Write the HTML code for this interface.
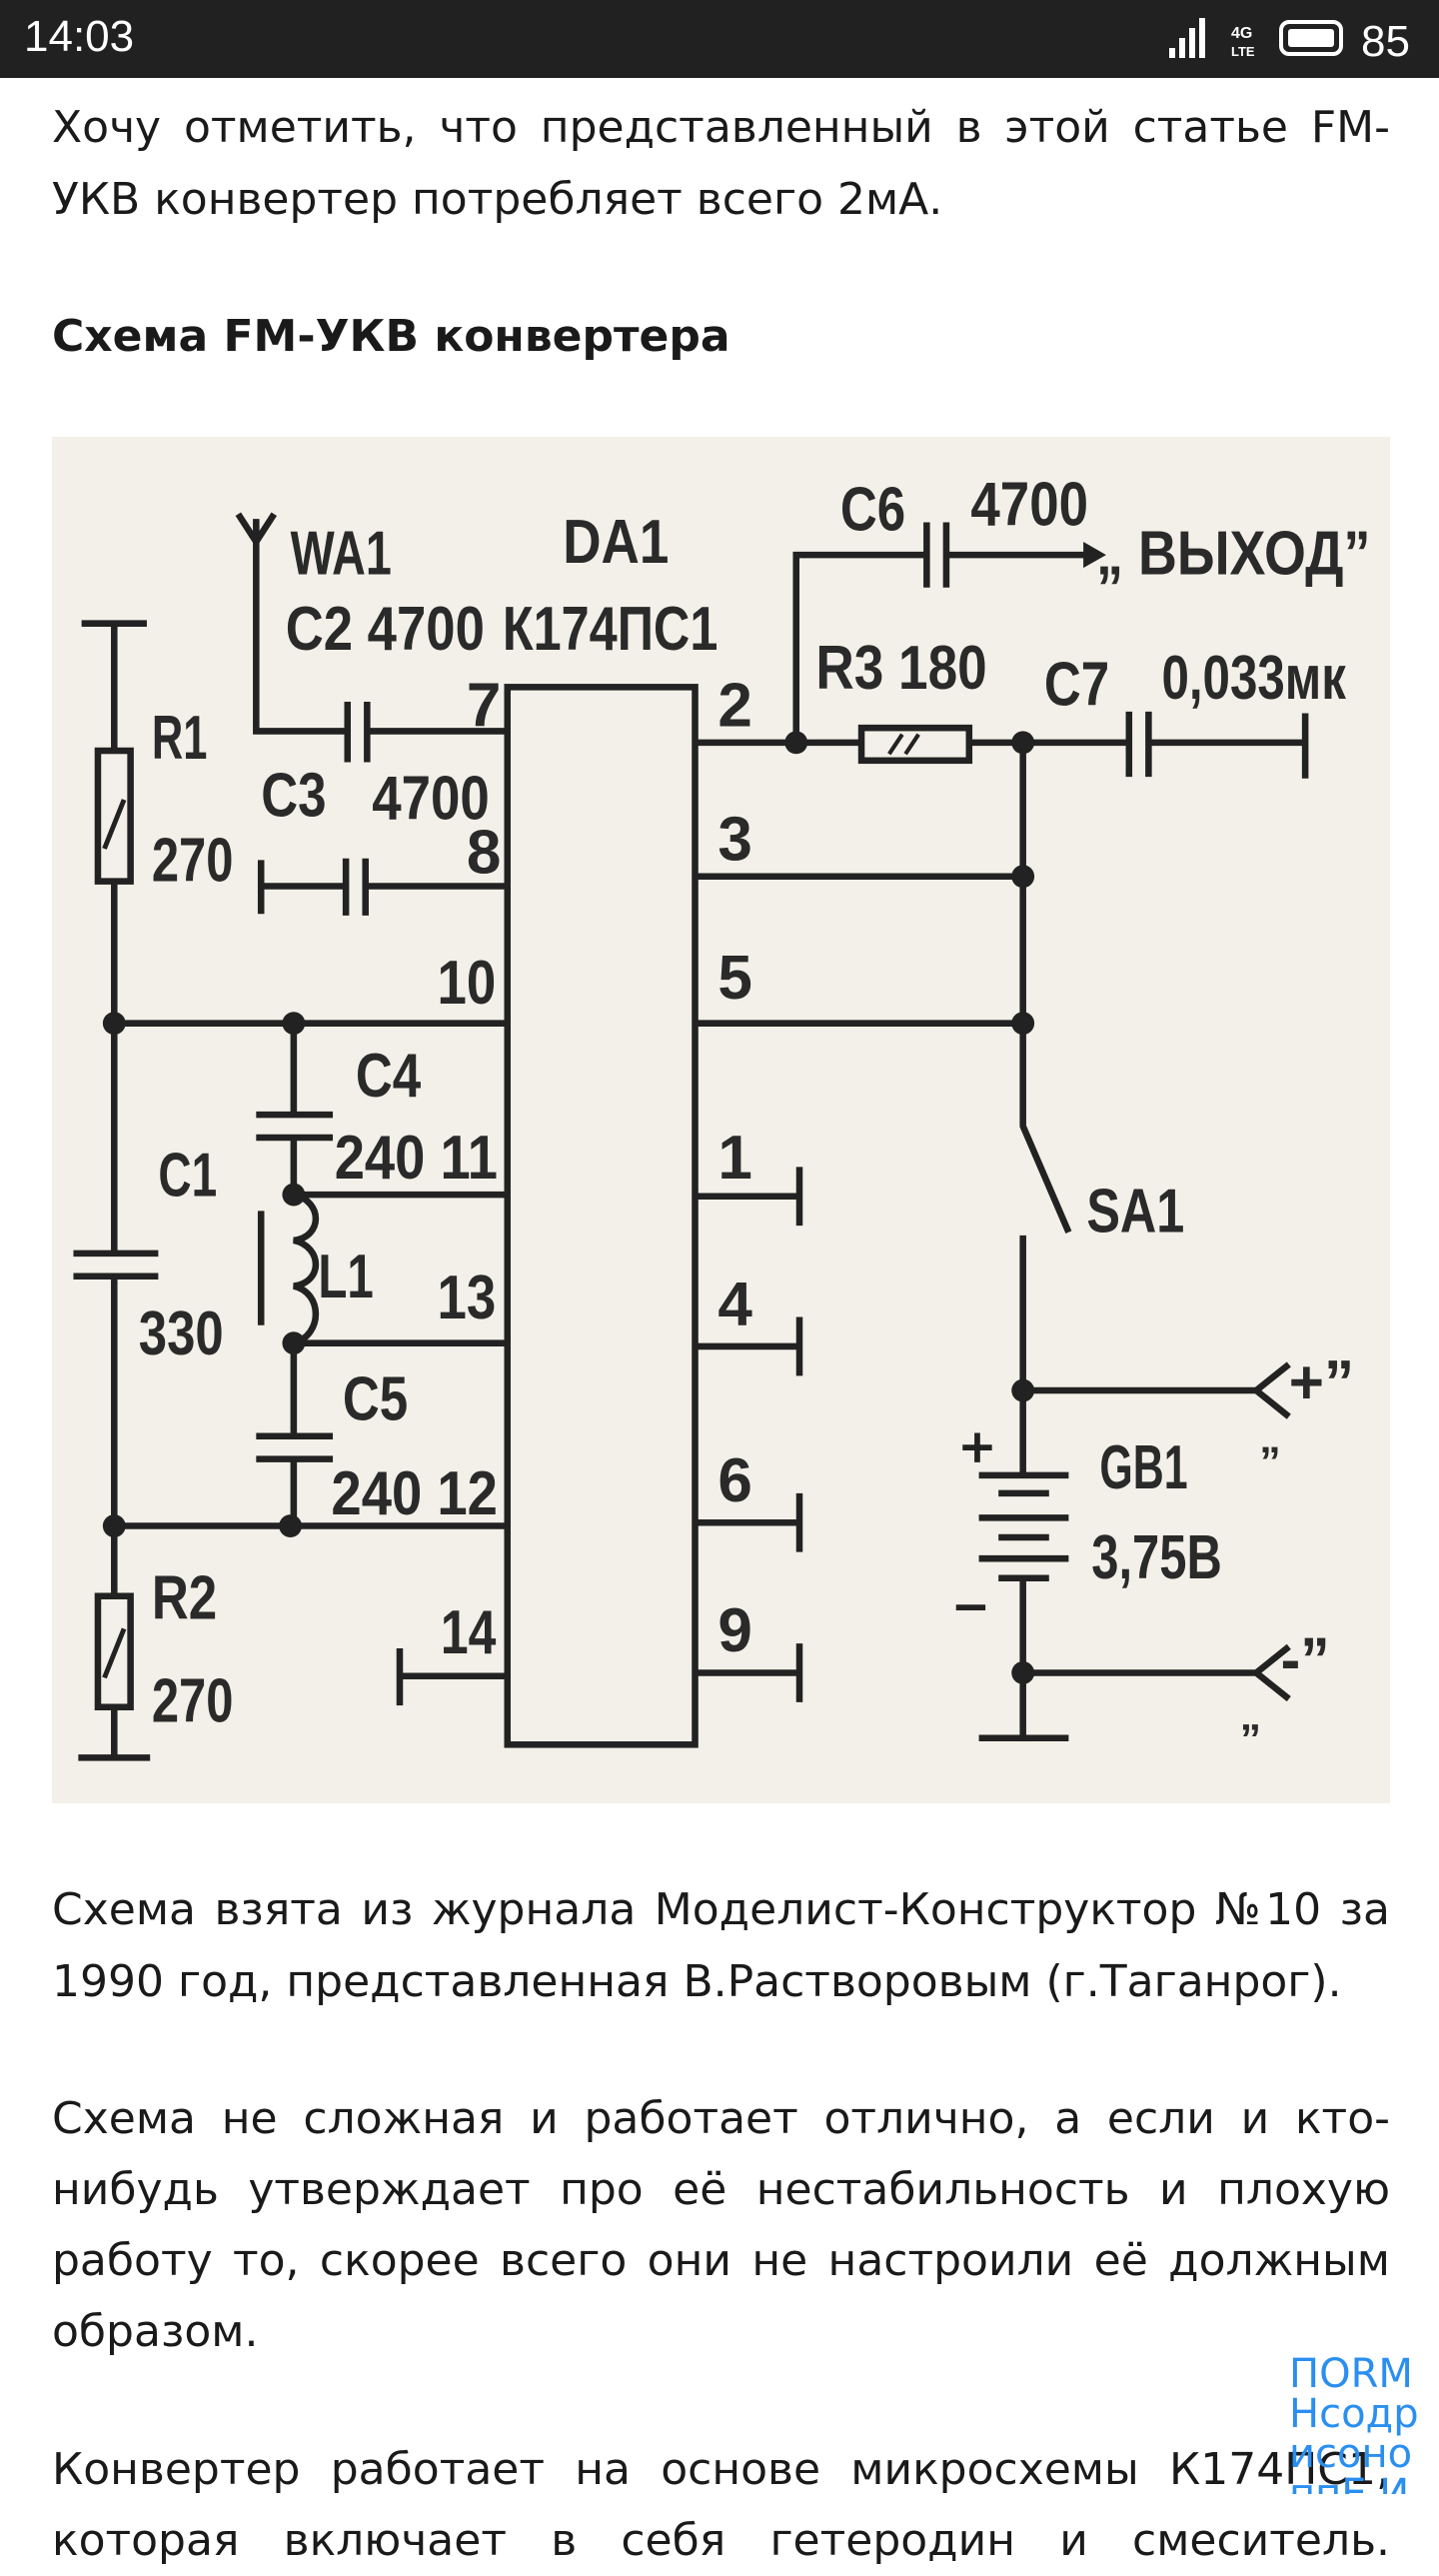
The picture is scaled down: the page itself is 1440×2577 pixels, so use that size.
<!DOCTYPE html>
<html><head><meta charset="utf-8">
<style>
html,body{margin:0;padding:0;width:1440px;height:2560px;overflow:hidden;background:#fff;}
.bar{position:absolute;left:0;top:0;width:1440px;height:78px;background:#212121;color:#fff;font-family:"Liberation Sans",sans-serif;}
.l{position:absolute;left:52px;width:1339px;font-family:"DejaVu Sans","Liberation Sans",sans-serif;font-size:44px;line-height:71px;height:71px;color:#1a1a1a;text-align:justify;text-align-last:justify;white-space:nowrap;}
.e{text-align:left;text-align-last:left;}
.h{font-weight:bold;}
.img{position:absolute;left:52px;top:437px;width:1339px;height:1367px;background:#f2f0e8;}
</style></head><body>
<div class="bar">
<div style="position:absolute;left:24px;top:12px;font-size:44px;">14:03</div>
<svg style="position:absolute;left:1150px;top:14px" width="290" height="50">
<rect x="20" y="34" width="6" height="10" fill="#fff"/><rect x="30" y="24" width="6" height="20" fill="#fff"/><rect x="40" y="14" width="6" height="30" fill="#fff"/><rect x="50" y="4" width="6" height="40" fill="#fff"/>
<text x="82" y="24" fill="#fff" font-size="16" font-family="Liberation Sans" font-weight="bold">4G</text>
<text x="82" y="42" fill="#fff" font-size="13" font-family="Liberation Sans" font-weight="bold">LTE</text>
<rect x="132" y="8" width="60" height="32" rx="8" fill="none" stroke="#fff" stroke-width="4"/>
<rect x="139" y="15" width="46" height="18" rx="3" fill="#fff"/>
<text x="212" y="42" fill="#fff" font-size="44" font-family="Liberation Sans">85</text>
</svg>
</div>
<div class="l" style="top:92px">Хочу отметить, что представленный в этой статье FM-</div>
<div class="l e" style="top:164px">УКВ конвертер потребляет всего 2мА.</div>
<div class="l e h" style="top:301px">Схема FM-УКВ конвертера</div>
<div class="img"></div>
<svg style="position:absolute;left:0;top:0" width="1440" height="2560" viewBox="0 0 882 1568">
<g stroke="#222" stroke-width="4" fill="none" stroke-linecap="butt">
<rect x="311" y="421" width="115" height="648"/>
<path d="M157 318 L157 448 L213 448 M225 448 L311 448"/>
<path d="M146 315 L157 332 L168 315"/>
<path d="M213 430 V467 M225 430 V467"/>
<path d="M160 527 V560 M160 543 H212 M224 543 H311 M212 526 V561 M224 526 V561"/>
<path d="M50 382 H90 M70 382 V460 M70 540 V768 M70 782 V978 M70 1046 V1077 M48 1077 H92"/>
<rect x="60" y="460" width="20" height="80"/>
<rect x="60" y="978" width="20" height="68"/>
<path d="M45 768 H97 M45 782 H97"/>
<path d="M64 520 L76 490 M64 1028 L76 998" stroke-width="3"/>
<path d="M70 627 H311 M180 732 H311 M180 823 H311 M70 935 H311 M245 1027 H311 M245 1010 V1045"/>
<path d="M180 627 V683 M180 697 V732 M157 683 H204 M157 697 H204"/>
<path d="M180 732 C198 736,198 758,180 760 C198 764,198 786,180 788 C198 792,198 818,180 823"/>
<path d="M160 742 V812"/>
<path d="M180 823 V880 M180 894 V935 M157 880 H204 M157 894 H204"/>
<path d="M426 455 H528 M594 455 H692 M704 455 H800 M800 437 V477"/>
<rect x="528" y="446" width="66" height="20"/>
<path d="M545 462 L553 450 M555 462 L563 450" stroke-width="2.5"/>
<path d="M692 436 V476 M704 436 V476"/>
<path d="M488 455 V340 H568 M580 340 H668 M568 320 V360 M580 320 V360"/>
<path d="M426 537 H627 M426 627 H627 M627 455 V690 L655 755 M627 757 V904 M627 967 V1065 M600 1065 H655"/>
<path d="M426 733 H490 M426 825 H490 M426 933 H490 M426 1025 H490 M490 715 V751 M490 807 V843 M490 915 V951 M490 1007 V1043"/>
<path d="M627 852 H770 M790 836 L770 852 L790 868 M627 1025 H770 M790 1009 L770 1025 L790 1041"/>
<path d="M600 904 H655 M612 915 H643 M600 930 H655 M612 942 H643 M600 955 H655 M612 967 H643"/>
<path d="M590 887 H608 M599 878 V896 M586 985 H604" stroke-width="3.5"/>
</g>
<path d="M664 332 L678 340 L664 348 Z" fill="#222"/>
<g fill="#222">
<circle cx="70" cy="627" r="7"/><circle cx="180" cy="627" r="7"/><circle cx="180" cy="732" r="7"/><circle cx="180" cy="823" r="7"/><circle cx="70" cy="935" r="7"/><circle cx="178" cy="935" r="7"/>
<circle cx="488" cy="455" r="7"/><circle cx="627" cy="455" r="7"/><circle cx="627" cy="537" r="7"/><circle cx="627" cy="627" r="7"/><circle cx="627" cy="852" r="7"/><circle cx="627" cy="1025" r="7"/>
</g>
<g fill="#2a2a2a" font-family="Liberation Sans, DejaVu Sans, sans-serif" font-size="38" font-weight="bold">
<text x="178" y="352" textLength="62" lengthAdjust="spacingAndGlyphs">WA1</text>
<text x="175" y="398" textLength="122" lengthAdjust="spacingAndGlyphs">C2 4700</text>
<text x="345" y="345" textLength="65" lengthAdjust="spacingAndGlyphs">DA1</text>
<text x="308" y="398" textLength="132" lengthAdjust="spacingAndGlyphs">К174ПС1</text>
<text x="515" y="325" textLength="40" lengthAdjust="spacingAndGlyphs">C6</text>
<text x="595" y="322" textLength="72" lengthAdjust="spacingAndGlyphs">4700</text>
<text x="672" y="352" textLength="168" lengthAdjust="spacingAndGlyphs">„ ВЫХОД”</text>
<text x="500" y="422" textLength="105" lengthAdjust="spacingAndGlyphs">R3 180</text>
<text x="640" y="432" textLength="40" lengthAdjust="spacingAndGlyphs">C7</text>
<text x="712" y="428" textLength="113" lengthAdjust="spacingAndGlyphs">0,033мк</text>
<text x="286" y="445">7</text><text x="440" y="445">2</text>
<text x="160" y="500" textLength="40" lengthAdjust="spacingAndGlyphs">C3</text>
<text x="228" y="502" textLength="72" lengthAdjust="spacingAndGlyphs">4700</text>
<text x="286" y="535">8</text><text x="440" y="527">3</text>
<text x="93" y="465" textLength="34" lengthAdjust="spacingAndGlyphs">R1</text>
<text x="93" y="540" textLength="50" lengthAdjust="spacingAndGlyphs">270</text>
<text x="268" y="615" textLength="36" lengthAdjust="spacingAndGlyphs">10</text>
<text x="440" y="612">5</text>
<text x="218" y="672" textLength="40" lengthAdjust="spacingAndGlyphs">C4</text>
<text x="205" y="722" textLength="100" lengthAdjust="spacingAndGlyphs">240 11</text>
<text x="440" y="722">1</text>
<text x="666" y="755" textLength="60" lengthAdjust="spacingAndGlyphs">SA1</text>
<text x="97" y="733" textLength="36" lengthAdjust="spacingAndGlyphs">C1</text>
<text x="85" y="830" textLength="52" lengthAdjust="spacingAndGlyphs">330</text>
<text x="195" y="795" textLength="34" lengthAdjust="spacingAndGlyphs">L1</text>
<text x="268" y="808" textLength="36" lengthAdjust="spacingAndGlyphs">13</text>
<text x="440" y="812">4</text>
<text x="210" y="870" textLength="40" lengthAdjust="spacingAndGlyphs">C5</text>
<text x="203" y="928" textLength="102" lengthAdjust="spacingAndGlyphs">240 12</text>
<text x="440" y="920">6</text>
<text x="674" y="912" textLength="54" lengthAdjust="spacingAndGlyphs">GB1</text>
<text x="669" y="967" textLength="80" lengthAdjust="spacingAndGlyphs">3,75B</text>
<text x="790" y="860" textLength="40" lengthAdjust="spacingAndGlyphs">+”</text>
<text x="772" y="890" font-size="26">„</text>
<text x="93" y="992" textLength="40" lengthAdjust="spacingAndGlyphs">R2</text>
<text x="93" y="1055" textLength="50" lengthAdjust="spacingAndGlyphs">270</text>
<text x="270" y="1013" textLength="34" lengthAdjust="spacingAndGlyphs">14</text>
<text x="440" y="1012">9</text>
<text x="785" y="1030" textLength="30" lengthAdjust="spacingAndGlyphs">-”</text>
<text x="760" y="1060" font-size="26">„</text>
</g>
</svg>
<div class="l" style="top:1875px">Схема взята из журнала Моделист-Конструктор №10 за</div>
<div class="l e" style="top:1947px">1990 год, представленная В.Растворовым (г.Таганрог).</div>
<div class="l" style="top:2084px">Схема не сложная и работает отлично, а если и кто-</div>
<div class="l" style="top:2155px">нибудь утверждает про её нестабильность и плохую</div>
<div class="l" style="top:2226px">работу то, скорее всего они не настроили её должным</div>
<div class="l e" style="top:2297px">образом.</div>
<div class="l" style="top:2435px">Конвертер работает на основе микросхемы К174ПС1,</div>
<div class="l" style="top:2506px">которая включает в себя гетеродин и смеситель.</div>
<div style="position:absolute;left:1290px;top:2355px;width:136px;height:140px;color:#2a8ff0;font-family:'DejaVu Sans',sans-serif;font-size:40px;line-height:40px;overflow:hidden;">ПОRМ<br>Нсодр<br>исоно<br>ппЕ.И</div>
</body></html>
